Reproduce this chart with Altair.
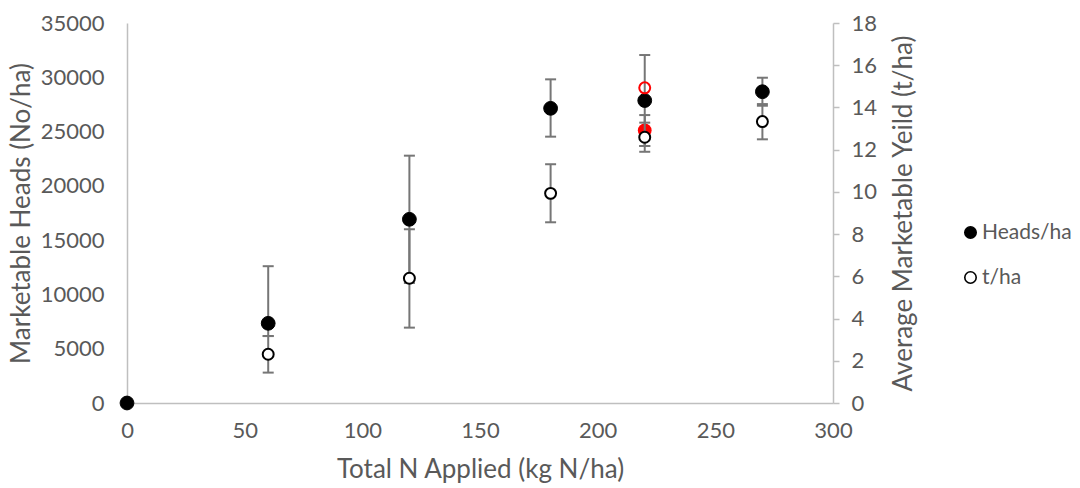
import altair as alt
import pandas as pd

# Nitrogen rate trial: marketable heads and yield vs total N applied
heads_x = [0, 60, 120, 180, 220, 270]
heads_val = [0, 7340, 16920, 27140, 27860, 28670]
heads_lo = [0, 6170, 11050, 24530, 23670, 27380]
heads_hi = [0, 12600, 22780, 29810, 32050, 29960]

tha_x = [60, 120, 180, 220, 270]
tha_val = [2.31, 5.91, 9.93, 12.59, 13.33]
tha_lo = [1.44, 3.57, 8.56, 11.90, 12.49]
tha_hi = [3.17, 8.23, 11.31, 13.28, 14.16]

# highlighted treatment at 220 kg N/ha
red_x = [220]
red_heads = [25100]
red_heads_lo = [23670]
red_heads_hi = [26520]
red_tha = [14.93]

x_ticks = [0, 50, 100, 150, 200, 250, 300]
heads_ticks = [0, 5000, 10000, 15000, 20000, 25000, 30000, 35000]
tha_ticks = [0, 2, 4, 6, 8, 10, 12, 14, 16, 18]

FONT = "Lato"
TXT = "#595959"
AX = "#bfbfbf"
ERR = "#767676"
LBL = 22
TTL = 26

heads = pd.DataFrame({"n": heads_x, "v": heads_val, "lo": heads_lo, "hi": heads_hi,
                      "series": "Heads/ha"})
tha = pd.DataFrame({"n": tha_x, "v": tha_val, "lo": tha_lo, "hi": tha_hi, "series": "t/ha"})
red_h = pd.DataFrame({"n": red_x, "v": red_heads, "lo": red_heads_lo, "hi": red_heads_hi})
red_t = pd.DataFrame({"n": red_x, "v": red_tha})

xenc = alt.X("n:Q", scale=alt.Scale(domain=[0, 300], nice=False),
             axis=alt.Axis(values=x_ticks, title="Total N Applied (kg N/ha)", grid=False,
                           ticks=False, domainColor=AX, domainWidth=1.5, format="d",
                           labelFlush=False,
                           labelFont=FONT, labelFontSize=LBL, labelColor=TXT, labelPadding=17,
                           titleFont=FONT, titleFontSize=TTL, titleColor=TXT,
                           titleFontWeight="normal", titlePadding=15))

hscale = alt.Scale(domain=[0, 35000], nice=False)
haxis = alt.Axis(values=heads_ticks, title="Marketable Heads (No/ha)", grid=False,
                 ticks=False, domainColor=AX, domainWidth=1.5, format="d",
                 labelFont=FONT, labelFontSize=LBL, labelColor=TXT, labelPadding=23,
                 titleFont=FONT, titleFontSize=TTL, titleColor=TXT,
                 titleFontWeight="normal", titlePadding=6)
tscale = alt.Scale(domain=[0, 18], nice=False)
taxis = alt.Axis(values=tha_ticks, title="Average Marketable Yeild (t/ha)", grid=False,
                 orient="right", ticks=True, tickSize=6, tickColor=AX, tickWidth=1.5,
                 domainColor=AX, domainWidth=1.5,
                 labelFont=FONT, labelFontSize=LBL, labelColor=TXT, labelPadding=12,
                 titleFont=FONT, titleFontSize=TTL, titleColor=TXT, titleAngle=270,
                 titleBaseline="top", titleFontWeight="normal", titlePadding=14)

fill_scale = alt.Scale(domain=["Heads/ha", "t/ha"], range=["black", "white"])
legend = alt.Legend(title=None, orient="none", legendX=833, legendY=199,
                    symbolType="circle", symbolSize=130, symbolStrokeColor="black",
                    symbolStrokeWidth=1.6, labelFont=FONT, labelFontSize=21,
                    labelColor=TXT, rowPadding=23, labelOffset=1)


def err_layers(df, scale, axis):
    bars = alt.Chart(df).mark_rule(color=ERR, strokeWidth=2).encode(
        x=xenc, y=alt.Y("lo:Q", scale=scale, axis=axis, title=axis.title), y2="hi:Q")
    caps = alt.Chart(df).transform_fold(["lo", "hi"], as_=["b", "yv"]).mark_tick(
        orient="horizontal", color=ERR, size=11, thickness=2, opacity=1).encode(
        x=xenc, y=alt.Y("yv:Q", scale=scale, axis=axis, title=axis.title))
    return [bars, caps]


heads_pts = alt.Chart(heads).mark_point(shape="circle", size=190, stroke="black",
                                        strokeWidth=1, opacity=1, filled=True).encode(
    x=xenc, y=alt.Y("v:Q", scale=hscale, axis=haxis, title=haxis.title),
    fill=alt.Fill("series:N", scale=fill_scale, legend=legend))
red_h_pts = alt.Chart(red_h).mark_point(shape="circle", size=190, color="red",
                                        filled=True, opacity=1).encode(
    x=xenc, y=alt.Y("v:Q", scale=hscale, axis=haxis, title=haxis.title))

tha_pts = alt.Chart(tha).mark_point(shape="circle", size=120, stroke="black",
                                    strokeWidth=2, opacity=1, filled=True).encode(
    x=xenc, y=alt.Y("v:Q", scale=tscale, axis=taxis, title=taxis.title),
    fill=alt.Fill("series:N", scale=fill_scale, legend=legend))
red_t_pts = alt.Chart(red_t).mark_point(shape="circle", size=120, stroke="red",
                                        strokeWidth=2, opacity=1, filled=False).encode(
    x=xenc, y=alt.Y("v:Q", scale=tscale, axis=taxis, title=taxis.title))

left = alt.layer(*err_layers(heads, hscale, haxis),
                 *err_layers(red_h, hscale, haxis),
                 heads_pts, red_h_pts)
right = alt.layer(*err_layers(tha, tscale, taxis), tha_pts, red_t_pts)

chart = alt.layer(left, right).resolve_scale(y="independent").properties(
    width=706, height=380,
    autosize=alt.AutoSizeParams(type="none"),
    padding={"left": 127, "top": 23, "right": 247, "bottom": 85},
    background="white",
).configure_view(stroke=None)

chart.save("out.html", embed_options={"renderer": "svg", "actions": False})
